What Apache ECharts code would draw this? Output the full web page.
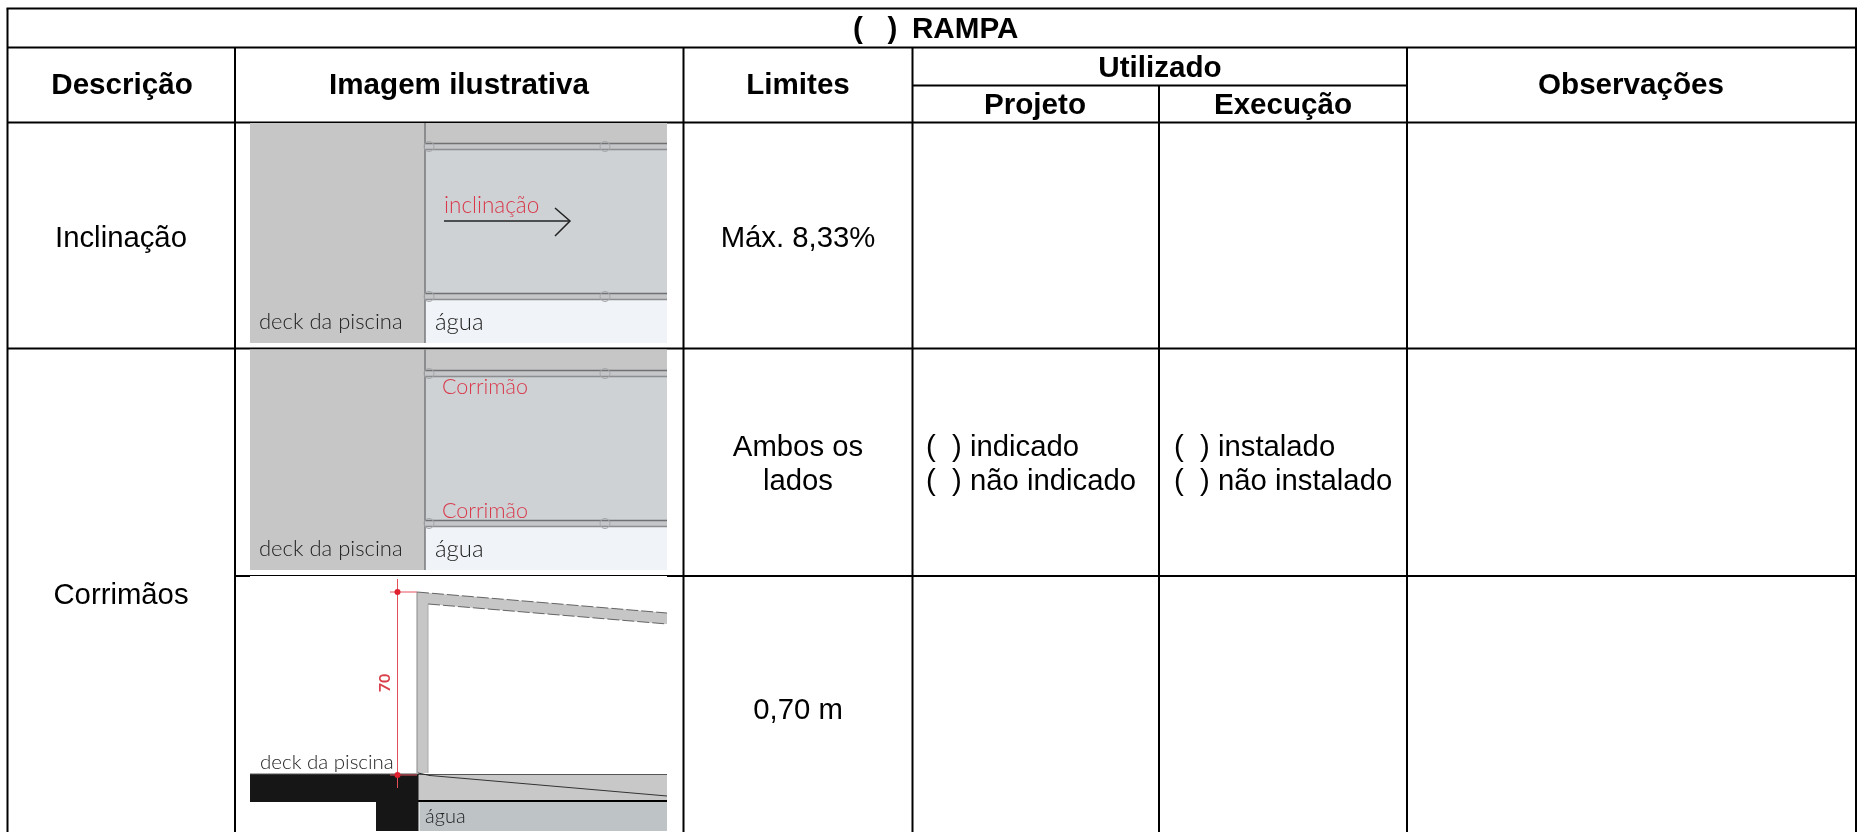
<!DOCTYPE html>
<html>
<head>
<meta charset="utf-8">
<title>Rampa</title>
<script src="https://cdn.jsdelivr.net/npm/echarts@6/dist/echarts.min.js"></script>
<style>
  html, body { margin: 0; padding: 0; background: #fff; }
  #main { width: 1861px; height: 832px; }
</style>
</head>
<body>
<div id="main"></div>
<script>
// table texts
var titleLabels = ["(   )", "RAMPA"];
var headerLabels = ["Descrição", "Imagem ilustrativa", "Limites", "Observações"];
var utilizadoLabel = "Utilizado";
var subHeaderLabels = ["Projeto", "Execução"];
var descricaoLabels = ["Inclinação", "Corrimãos"];
var limiteLabels = ["Máx. 8,33%", "Ambos os", "lados", "0,70 m"];
var projetoOptions = ["(  ) indicado", "(  ) não indicado"];
var execucaoOptions = ["(  ) instalado", "(  ) não instalado"];
var imageLabels = ["deck da piscina", "água", "inclinação", "Corrimão", "70"];

// grid of the table
var colX = [7.5, 235, 683.5, 912.5, 1159, 1407, 1856];
var rowY = [8.5, 47.5, 85.5, 122.5, 348.5, 576, 832];

var BODY_FONT = "29.3px 'Liberation Sans', Arial, sans-serif";
var BOLD_FONT = "bold 29.6px 'Liberation Sans', Arial, sans-serif";
var SKETCH_FONT = "'Lato', 'Open Sans', sans-serif";

var shapes = [];

function rect(x, y, w, h, fill) {
  shapes.push({ type: "rect", shape: { x: x, y: y, width: w, height: h }, style: { fill: fill } });
}
function line(x1, y1, x2, y2, color, width, dash) {
  shapes.push({
    type: "line",
    shape: { x1: x1, y1: y1, x2: x2, y2: y2 },
    style: { stroke: color, lineWidth: width, lineDash: dash || null },
  });
}
function poly(points, fill) {
  shapes.push({ type: "polygon", shape: { points: points }, style: { fill: fill } });
}
function text(str, x, y, font, fill, align) {
  shapes.push({
    type: "text",
    style: { text: str, x: x, y: y, font: font, fill: fill || "#000", textAlign: align || "center", textVerticalAlign: "middle" },
  });
}
function ring(cx, cy, r) {
  shapes.push({ type: "circle", shape: { cx: cx, cy: cy, r: r }, style: { fill: "none", stroke: "#a4a6a8", lineWidth: 1 } });
}

function rail(y, x0, x1) {
  rect(x0, y, x1 - x0, 7, "#c4c6c8");
  line(x0, y + 0.5, x1, y + 0.5, "#6f7173", 1.5);
  line(x0, y + 6.5, x1, y + 6.5, "#8b8d8f", 1.5);
  ring(x0 + 4, y + 3.5, 5);
  ring(605, y + 3.5, 5);
}

// top view of the ramp, used by the first two pictures
function planView(top, bottom, rail1, rail2) {
  var left = 250, split = 425, right = 667;
  rect(left, top, split - left, bottom - top, "#c6c6c6");
  rect(split, top, right - split, rail1 - top, "#c6c6c6");
  rect(split, rail1, right - split, rail2 - rail1, "#ced2d5");
  rect(split, rail2 + 7, right - split, bottom - rail2 - 7, "#f0f3f7");
  line(split, top, split, bottom, "#77797b", 1.5);
  rail(rail1, split, right);
  rail(rail2, split, right);
  text(imageLabels[0], 259, bottom - 21, "300 22px " + SKETCH_FONT, "#222", "left");
  text(imageLabels[1], 435, bottom - 21, "300 24px " + SKETCH_FONT, "#222", "left");
}

function picture1() {
  planView(123, 343, 143, 293);
  text(imageLabels[2], 444, 206, "300 22.5px " + SKETCH_FONT, "#d9384a", "left");
  line(444, 221, 570, 221, "#222", 1.5);
  shapes.push({
    type: "polyline",
    shape: { points: [[555, 208], [570, 221], [555, 236]] },
    style: { fill: "none", stroke: "#222", lineWidth: 1.5 },
  });
}

function picture2() {
  planView(349.5, 570, 370, 520);
  text(imageLabels[3], 442, 387, "300 21.5px " + SKETCH_FONT, "#d9384a", "left");
  text(imageLabels[3], 442, 511, "300 21.5px " + SKETCH_FONT, "#d9384a", "left");
}

// section view with the 70 cm handrail
function picture3() {
  rect(250, 576, 417, 256, "#fff");
  // handrail
  poly([[417, 592], [667, 613], [667, 624], [428, 604], [428, 773], [417, 773]], "#c6c6c6");
  line(417, 592, 667, 613, "#444", 0.8, [12, 3]);
  line(428, 604, 667, 624, "#444", 0.8, [12, 3]);
  line(417, 592, 417, 773, "#888", 1);
  line(428, 604, 428, 773, "#aaa", 1);
  // ramp and water
  rect(418, 775, 249, 25, "#c8c8c8");
  line(418, 774.5, 667, 774.5, "#555", 1);
  line(418, 773, 430, 775.5, "#222", 1);
  line(430, 775.5, 667, 796, "#333", 1);
  rect(418, 800, 249, 2, "#000");
  rect(419.5, 802, 247.5, 29, "#bec3c6");
  // deck
  rect(250, 774, 168.5, 28, "#161616");
  rect(376, 802, 42.5, 29, "#161616");
  line(250, 774, 418, 774, "#555", 1);
  // dimension line
  line(397.5, 579, 397.5, 788, "#e2505c", 1);
  line(390, 592, 417, 592, "#e2505c", 1);
  line(390, 775, 417, 775, "#e2505c", 1);
  shapes.push({ type: "circle", shape: { cx: 397.5, cy: 592, r: 3 }, style: { fill: "#e0202e" } });
  shapes.push({ type: "circle", shape: { cx: 397.5, cy: 775, r: 3 }, style: { fill: "#e0202e" } });
  shapes.push({
    type: "text",
    x: 385,
    y: 683,
    rotation: Math.PI / 2,
    style: { text: imageLabels[4], x: 0, y: 0, font: "bold 16px " + SKETCH_FONT, fill: "#d9404c", textAlign: "center", textVerticalAlign: "middle" },
  });
  text(imageLabels[0], 260, 762, "300 20.5px " + SKETCH_FONT, "#222", "left");
  text(imageLabels[1], 425, 817, "300 20px " + SKETCH_FONT, "#222", "left");
}

function tableLines() {
  var left = colX[0], right = colX[6], bottom = rowY[6];
  // horizontal rules
  line(left - 1, rowY[0], right + 1, rowY[0], "#000", 2);
  line(left, rowY[1], right, rowY[1], "#000", 2);
  line(colX[3], rowY[2], colX[5], rowY[2], "#000", 2);
  line(left, rowY[3], right, rowY[3], "#000", 2);
  line(left, rowY[4], right, rowY[4], "#000", 2);
  line(colX[1], rowY[5], colX[6], rowY[5], "#000", 2);
  // vertical rules
  line(left, rowY[0], left, bottom, "#000", 2);
  line(right, rowY[0], right, bottom, "#000", 2);
  line(colX[1], rowY[1], colX[1], bottom, "#000", 2);
  line(colX[2], rowY[1], colX[2], bottom, "#000", 2);
  line(colX[3], rowY[1], colX[3], bottom, "#000", 2);
  line(colX[4], rowY[2], colX[4], bottom, "#000", 2);
  line(colX[5], rowY[1], colX[5], bottom, "#000", 2);
}

function tableTexts() {
  text(titleLabels[0], 853, 30, BOLD_FONT, "#000", "left");
  text(titleLabels[1], 912, 30, BOLD_FONT, "#000", "left");
  text(headerLabels[0], 122, 86, BOLD_FONT);
  text(headerLabels[1], 459, 86, BOLD_FONT);
  text(headerLabels[2], 798, 86, BOLD_FONT);
  text(headerLabels[3], 1631, 86, BOLD_FONT);
  text(utilizadoLabel, 1160, 69, BOLD_FONT);
  text(subHeaderLabels[0], 1035, 106, BOLD_FONT);
  text(subHeaderLabels[1], 1283, 106, BOLD_FONT);

  text(descricaoLabels[0], 121, 238.5, BODY_FONT);
  text(descricaoLabels[1], 121, 596, BODY_FONT);
  text(limiteLabels[0], 798, 238.5, BODY_FONT);
  text(limiteLabels[1], 798, 448, BODY_FONT);
  text(limiteLabels[2], 798, 482, BODY_FONT);
  text(limiteLabels[3], 798, 711, BODY_FONT);

  text(projetoOptions[0], 926, 448, BODY_FONT, "#000", "left");
  text(projetoOptions[1], 926, 482, BODY_FONT, "#000", "left");
  text(execucaoOptions[0], 1174, 448, BODY_FONT, "#000", "left");
  text(execucaoOptions[1], 1174, 482, BODY_FONT, "#000", "left");
}

tableLines();
picture1();
picture2();
picture3();
tableTexts();

var myChart = echarts.init(document.getElementById("main"));
myChart.setOption({
  backgroundColor: "#fff",
  animation: false,
  graphic: { elements: shapes },
});
</script>
</body>
</html>
